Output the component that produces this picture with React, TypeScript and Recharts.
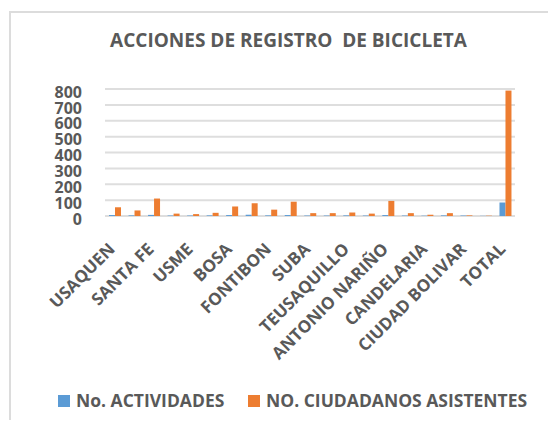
import { BarChart, Bar, XAxis, YAxis, CartesianGrid } from 'recharts'

const localidades = [
  'USAQUEN', 'CHAPINERO', 'SANTA FE', 'SAN CRISTOBAL', 'USME', 'TUNJUELITO', 'BOSA',
  'KENNEDY', 'FONTIBON', 'ENGATIVA', 'SUBA', 'BARRIOS UNIDOS', 'TEUSAQUILLO',
  'LOS MARTIRES', 'ANTONIO NARIÑO', 'PUENTE ARANDA', 'CANDELARIA', 'RAFAEL URIBE URIBE',
  'CIUDAD BOLIVAR', 'SUMAPAZ', 'TOTAL',
]

const actividades = [6, 4, 7, 3, 3, 4, 6, 8, 4, 6, 3, 3, 4, 3, 6, 3, 2, 4, 3, 1, 85]
const asistentes = [55, 35, 110, 15, 12, 20, 60, 80, 40, 90, 18, 18, 22, 15, 95, 18, 8, 18, 4, 2, 790]

const yTicks = [0, 100, 200, 300, 400, 500, 600, 700, 800]

const data = localidades.map((name, i) => ({
  name,
  actividades: actividades[i],
  asistentes: asistentes[i],
}))

const FONT = '"Open Sans", sans-serif'
const TEXT = '#595959'
const BLUE = '#5B9BD5'
const ORANGE = '#ED7D31'

function AngledTick({ x, y, payload }: any) {
  return (
    <g transform={`translate(${x - 3},${y})`}>
      <text
        transform="rotate(-45)"
        textAnchor="end"
        dy="0.35em"
        fill={TEXT}
        fontFamily={FONT}
        fontWeight={700}
        fontSize={17}
      >
        {payload.value}
      </text>
    </g>
  )
}

function LegendItem({ left, color, label }: { left: number; color: string; label: string }) {
  return (
    <div style={{ position: 'absolute', left, top: 392, display: 'flex', alignItems: 'center', lineHeight: '17px' }}>
      <span style={{ width: 12, height: 12, background: color, marginRight: 6, display: 'inline-block' }} />
      <span style={{ fontFamily: FONT, fontWeight: 700, fontSize: 17.5, color: TEXT }}>{label}</span>
    </div>
  )
}

export default function App() {
  return (
    <div style={{ position: 'relative', width: 556, height: 428, margin: -8, background: '#fff', overflow: 'hidden' }}>
      <div style={{ position: 'absolute', left: 0, top: 0, width: 2, height: 428, background: '#858585' }} />
      <div style={{ position: 'absolute', left: 9, top: 11, width: 600, height: 500, border: '2px solid #dcdcdc' }} />
      <div
        style={{
          position: 'absolute', left: 0, top: 31, width: 577, textAlign: 'center',
          fontFamily: FONT, fontWeight: 700, fontSize: 19, lineHeight: '18px', color: TEXT,
          whiteSpace: 'pre',
        }}
      >
        ACCIONES DE REGISTRO  DE BICICLETA
      </div>
      <div style={{ position: 'absolute', left: 0, top: 0 }}>
        <BarChart width={556} height={428} data={data} margin={{ top: 89, right: 41, left: 0, bottom: 0 }} barGap={0} barSize={6}>
          <CartesianGrid vertical={false} stroke="#dedede" strokeWidth={2} />
          <XAxis
            dataKey="name"
            interval={1}
            height={212}
            axisLine={false}
            tickLine={false}
            tickMargin={24}
            tick={<AngledTick />}
          />
          <YAxis
            width={105}
            domain={[0, 800]}
            ticks={yTicks}
            interval={0}
            axisLine={false}
            tickLine={false}
            tickMargin={17}
            tick={{ fill: TEXT, fontFamily: FONT, fontWeight: 700, fontSize: 16, dy: 3 }}
          />
          <Bar dataKey="actividades" name="No. ACTIVIDADES" fill={BLUE} isAnimationActive={false} />
          <Bar dataKey="asistentes" name="NO. CIUDADANOS ASISTENTES" fill={ORANGE} isAnimationActive={false} />
        </BarChart>
      </div>
      <LegendItem left={58} color={BLUE} label="No. ACTIVIDADES" />
      <LegendItem left={248} color={ORANGE} label="NO. CIUDADANOS ASISTENTES" />
    </div>
  )
}
